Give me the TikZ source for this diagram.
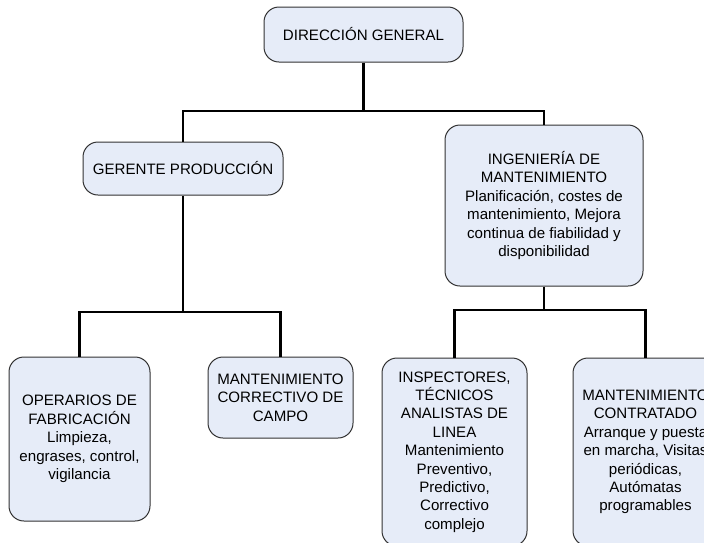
\documentclass[tikz,border=0pt]{standalone}
\usepackage{fontspec}
\setmainfont{Liberation Sans}
\definecolor{boxfill}{RGB}{230,236,248}
\definecolor{boxline}{RGB}{50,50,50}
\begin{document}
\begin{tikzpicture}[x=1pt,y=-1pt,
  box/.style={draw=boxline, line width=1pt, fill=boxfill, rounded corners=15pt,
    align=center, inner sep=0pt, font=\fontsize{15.1}{18.4}\selectfont},
  conn/.style={line width=2.6pt, draw=black, line join=miter}]
\useasboundingbox (0,0) rectangle (704,542);
\node[box, minimum width=199pt, minimum height=55pt] (dir) at (363.5,34.5) {DIRECCIÓN GENERAL};
\node[box, minimum width=200pt, minimum height=53pt] (ger) at (183,168.5) {GERENTE PRODUCCIÓN};
\node[box, minimum width=198pt, minimum height=161pt] (ing) at (544,205.5)
  {INGENIERÍA DE\\MANTENIMIENTO\\Planificación, costes de\\mantenimiento, Mejora\\continua de fiabilidad y\\disponibilidad};
\node[box, minimum width=141pt, minimum height=164pt] (op) at (79.5,439)
  {OPERARIOS DE\\FABRICACIÓN\\Limpieza,\\engrases, control,\\vigilancia};
\node[box, minimum width=145pt, minimum height=81pt] (mc) at (280.5,397.5)
  {MANTENIMIENTO\\CORRECTIVO DE\\CAMPO};
\node[box, minimum width=145pt, minimum height=188pt] (insp) at (454.5,452)
  {INSPECTORES,\\TÉCNICOS\\ANALISTAS DE\\LINEA\\Mantenimiento\\Preventivo,\\Predictivo,\\Correctivo\\complejo};
\node[box, minimum width=145pt, minimum height=188pt] (cont) at (645.5,452)
  {MANTENIMIENTO\\CONTRATADO\\Arranque y puesta\\en marcha, Visitas\\periódicas,\\Autómatas\\programables};
\coordinate (j1) at (0,111);
\coordinate (j2) at (0,312);
\coordinate (j3) at (0,310);
\draw[conn] (dir.south) -- (dir.south |- j1) -| (ger.north);
\draw[conn] (dir.south |- j1) -| (ing.north);
\draw[conn] (ger.south) -- (ger.south |- j2) -| (op.north);
\draw[conn] (ger.south |- j2) -| (mc.north);
\draw[conn] (ing.south) -- (ing.south |- j3) -| (insp.north);
\draw[conn] (ing.south |- j3) -| (cont.north);
\end{tikzpicture}
\end{document}
